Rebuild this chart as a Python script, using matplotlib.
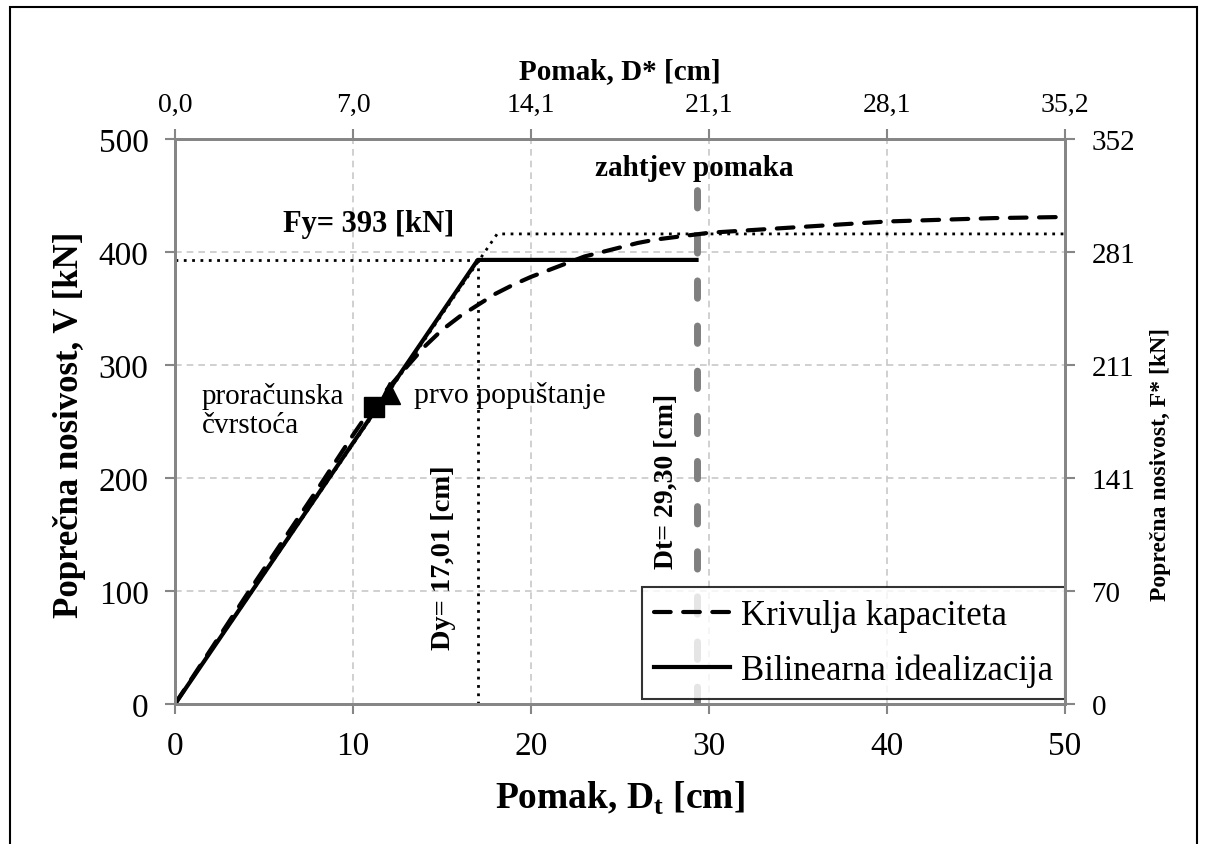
import matplotlib
matplotlib.use("Agg")
import matplotlib.pyplot as plt
from matplotlib.patches import Rectangle

plt.rcParams['font.family'] = ['Liberation Serif', 'DejaVu Serif']
plt.rcParams['mathtext.fontset'] = 'custom'
plt.rcParams['mathtext.bf'] = 'Liberation Serif:bold'
plt.rcParams['mathtext.rm'] = 'Liberation Serif'

# ---------------- data ----------------
cap_x = [0, 2, 4, 6, 8, 10, 11, 12, 13, 14, 15, 16, 17, 18, 19, 20, 21, 22, 23, 24,
         25, 26, 27, 28, 29, 30, 32, 34, 36, 38, 40, 42, 44, 46, 48, 50]
cap_y = [0, 48, 96, 143, 190, 238, 261, 280, 298, 316, 331, 343, 353, 363, 371, 378,
         384, 390, 396, 400, 404, 408, 411, 413, 415, 417, 419, 421, 423, 425, 427,
         428, 429, 430, 430.5, 431]

bil_x = [0, 17.01, 29.30]
bil_y = [0, 393, 393]

ec_x = [0, 18.1, 50]
ec_y = [0, 416, 416]

Fy = 393
Dy = 17.01
Dt = 29.30
target_top = 472

design_pt = (11.2, 263)   # proračunska čvrstoća
yield_pt = (12.0, 275)    # prvo popuštanje

x_ticks = [0, 10, 20, 30, 40, 50]
y_ticks = [0, 100, 200, 300, 400, 500]
top_labels = ['0,0', '7,0', '14,1', '21,1', '28,1', '35,2']
right_labels = ['0', '70', '141', '211', '281', '352']

# ---------------- figure ----------------
W, H = 1205, 845
fig = plt.figure(figsize=(W / 100, H / 100), dpi=100)
ax = fig.add_axes([175 / W, 1 - 705 / H, (1065 - 175) / W, (705 - 140) / H])

spine_col = '#868686'
grid_col = '#c8c8c8'

ax.set_xlim(0, 50)
ax.set_ylim(0, 500)
ax.set_xticks(x_ticks)
ax.set_yticks(y_ticks)
ax.grid(True, color=grid_col, linestyle=(0, (4, 3)), linewidth=1.2, zorder=0)
for s in ax.spines.values():
    s.set_color(spine_col)
    s.set_linewidth(2)
ax.tick_params(axis='both', direction='out', length=7, width=1.5, color=spine_col,
               labelsize=24)
ax.tick_params(axis='x', pad=12)
ax.tick_params(axis='y', pad=12)

# target displacement
ax.plot([Dt, Dt], [0, target_top], color='#7f7f7f', lw=5,
        linestyle=(0, (2.5, 4)), dash_capstyle='round', zorder=2)

# dotted guide lines
dot = (0, (1, 2))
ax.plot([0, Dy], [Fy, Fy], color='black', lw=2, linestyle=dot, zorder=3)
ax.plot([Dy, Dy], [0, Fy], color='black', lw=2, linestyle=dot, zorder=3)
ax.plot(ec_x, ec_y, color='black', lw=2, linestyle=dot, zorder=3)

# capacity curve
l1, = ax.plot(cap_x, cap_y, color='black', lw=3, linestyle=(0, (4, 3)),
              dash_capstyle='round', label='Krivulja kapaciteta', zorder=4)
# bilinear
l2, = ax.plot(bil_x, bil_y, color='black', lw=3, label='Bilinearna idealizacija', zorder=4)

ax.plot([design_pt[0]], [design_pt[1]], marker='s', color='black', markersize=14, zorder=5)
ax.plot([yield_pt[0]], [yield_pt[1]], marker='^', color='black', markersize=16, zorder=5)

# annotations
ax.text(15.7, 425, 'Fy= 393 [kN]', fontsize=22, fontweight='bold', ha='right', va='center')
ax.text(23.6, 475, 'zahtjev pomaka', fontsize=21, fontweight='bold', ha='left', va='center')
ax.text(1.5, 260, 'proračunska\nčvrstoća', fontsize=21, ha='left', va='center',
        linespacing=1.15)
ax.text(13.4, 274, 'prvo popuštanje', fontsize=21.5, ha='left', va='center')
ax.text(15.1, 130, 'Dy= 17,01 [cm]', fontsize=20.5, fontweight='bold', rotation=90,
        ha='center', va='center')
ax.text(27.6, 198, 'Dt= 29,30 [cm]', fontsize=20, fontweight='bold', rotation=90,
        ha='center', va='center')

ax.set_xlabel('Pomak, D$_\\mathbf{t}$ [cm]', fontsize=27, fontweight='bold')
ax.xaxis.set_label_coords(0.5, -0.133)
ax.set_ylabel('Poprečna nosivost, V [kN]', fontsize=25, fontweight='bold')
ax.yaxis.set_label_coords(-0.1, 0.496)

leg = ax.legend(handles=[l1, l2], loc='lower right', bbox_to_anchor=(1.0, 0.009),
                borderaxespad=0, fontsize=25, frameon=True, fancybox=False,
                handlelength=2.2, handletextpad=0.3, borderpad=0.35, labelspacing=0.6)
leg.get_frame().set_edgecolor('black')
leg.get_frame().set_linewidth(1.5)
leg.set_zorder(6)

# top axis
axt = ax.twiny()
axt.set_xlim(ax.get_xlim())
axt.set_xticks(x_ticks)
axt.set_xticklabels(top_labels)
axt.tick_params(axis='x', direction='out', length=7, width=1.5, color=spine_col,
                labelsize=20, pad=9)
axt.set_xlabel('Pomak, D* [cm]', fontsize=21, fontweight='bold')
axt.xaxis.set_label_coords(0.5, 1.108)

# right axis
axr = ax.twinx()
axr.set_ylim(ax.get_ylim())
axr.set_yticks(y_ticks)
axr.set_yticklabels(right_labels)
axr.tick_params(axis='y', direction='out', length=7, width=1.5, color=spine_col,
                labelsize=21, pad=12)
axr.set_ylabel('Poprečna nosivost, F* [kN]', fontsize=17, fontweight='bold')
axr.yaxis.set_label_coords(1.0955, 0.425)
for a in (axt, axr):
    for s in a.spines.values():
        s.set_color(spine_col)
        s.set_linewidth(2)

# outer frame
fig.patches.append(Rectangle((10 / W, -0.01), (1197 - 10) / W, 1 - 8 / H + 0.01,
                             transform=fig.transFigure, fill=False,
                             edgecolor='black', linewidth=1.5))

fig.savefig('out.png', dpi=100)
